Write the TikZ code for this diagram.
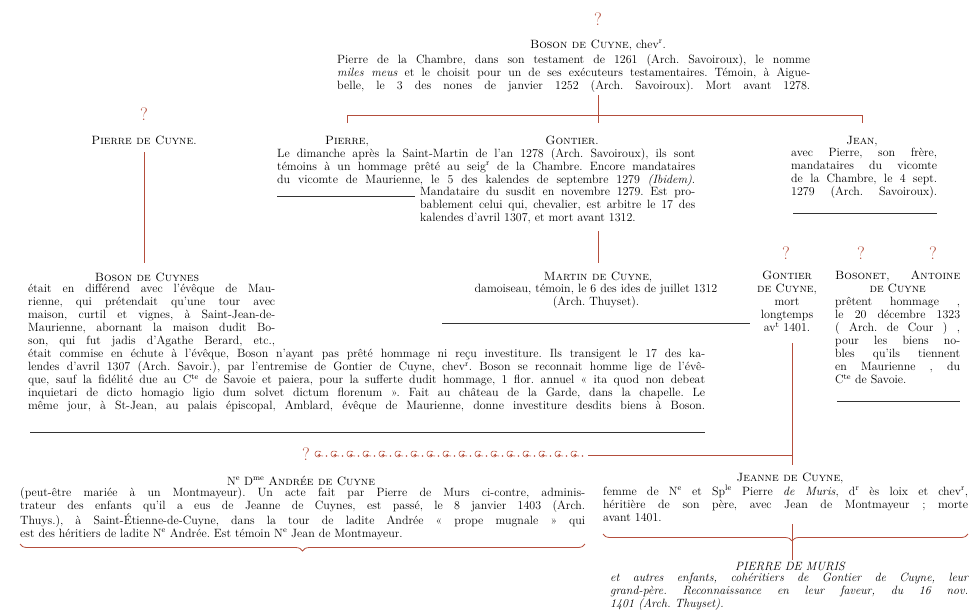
\documentclass[tikz,border=0pt]{standalone}
\usepackage{fontspec}
\usetikzlibrary{decorations.pathreplacing}
\definecolor{rouge}{RGB}{180,78,60}
\newcommand{\up}[1]{\textsuperscript{#1}}
\tikzset{
  qmark/.style={text=rouge, font=\fontsize{18}{18}\selectfont, inner sep=0pt},
  title/.style={anchor=base, inner sep=0pt},
  body/.style={anchor=north west, inner sep=0pt, align=justify},
  link/.style={draw=rouge, line width=0.9pt},
  rule/.style={draw=black!80, line width=0.7pt},
  brace/.style={draw=rouge, line width=0.8pt, decorate, decoration={brace, mirror, amplitude=7pt}}
}
\begin{document}
\begin{tikzpicture}[x=1pt, y=-1pt, font=\fontsize{12}{13}\selectfont]
\useasboundingbox (0,0) rectangle (978,611);
\hyphenpenalty=10000 \tolerance=10000 \frenchspacing
\spaceskip=0.333em plus 0.6em minus 0.15em

% --- Boson de Cuyne, head of the line
\node[qmark] (q0) at (598,19) {?};
\node[title] (boson) at (598,48) {\textsc{Boson de Cuyne}, chev\up{r}.};
\node[body, text width=473pt] (bosontxt) at (337,54) {\parfillskip=0pt Pierre de la Chambre, dans son testament de 1261 (Arch. Savoiroux), le nomme\linebreak
\textit{miles meus} et le choisit pour un de ses exécuteurs testamentaires. Témoin, à Aigue-\linebreak
belle, le 3 des nones de janvier 1252 (Arch. Savoiroux). Mort avant 1278.\par};

% --- his sons
\node[title] (pierre) at (347,144) {\textsc{Pierre},};
\node[title] (gontier) at (572,144) {\textsc{Gontier}.};
\node[title] (jean) at (862,144) {\textsc{Jean},};
\node[body, text width=418pt] (pgtxt) at (277,148) {\parfillskip=0pt
Le dimanche après la Saint-Martin de l'an 1278 (Arch. Savoiroux), ils sont\linebreak
témoins à un hommage prêté au seig\up{r} de la Chambre. Encore mandataires\linebreak
du vicomte de Maurienne, le 5 des kalendes de septembre 1279 \textit{(Ibidem)}.\par};
\node[body, text width=275pt] (gontiertxt) at (420,187) {Mandataire du susdit en novembre 1279. Est pro-\linebreak
bablement celui qui, chevalier, est arbitre le 17 des\linebreak
kalendes d'avril 1307, et mort avant 1312.\par};
\draw[rule] (277,196) -- (415,196);
\node[body, text width=146pt] (jeantxt) at (791,148) {\parfillskip=0pt avec Pierre, son frère,\linebreak
mandataires du vicomte\linebreak
de la Chambre, le 4 sept.\linebreak
1279 (Arch. Savoiroux).\par};
\draw[rule] (793,213) -- (937,213);

% --- Pierre de Cuyne and his son Boson
\node[qmark] (q1) at (144,114) {?};
\node[title] (pierrecuyne) at (144,144) {\textsc{Pierre de Cuyne}.};
\node[title] (bosons) at (147,281) {\textsc{Boson de Cuynes}};
\node[body, text width=247pt] (bosonstxt) at (28,284) {\parfillskip=0pt
était en différend avec l'évêque de Mau-\linebreak
rienne, qui prétendait qu'une tour avec\linebreak
maison, curtil et vignes, à Saint-Jean-de-\linebreak
Maurienne, abornant la maison dudit Bo-\linebreak
son, qui fut jadis d'Agathe Berard, etc.,\par};
\node[body, text width=677pt] (bosonstxt2) at (28,349) {\parfillskip=0pt
était commise en échute à l'évêque, Boson n'ayant pas prêté hommage ni reçu investiture. Ils transigent le 17 des ka-\linebreak
lendes d'avril 1307 (Arch. Savoir.), par l'entremise de Gontier de Cuyne, chev\up{r}. Boson se reconnait homme lige de l'évê-\linebreak
que, sauf la fidélité due au C\up{te} de Savoie et paiera, pour la sufferte dudit hommage, 1 flor. annuel « ita quod non debeat\linebreak
inquietari de dicto homagio ligio dum solvet dictum florenum ». Fait au château de la Garde, dans la chapelle. Le\linebreak
même jour, à St-Jean, au palais épiscopal, Amblard, évêque de Maurienne, donne investiture desdits biens à Boson.\par};
\draw[rule] (30,432) -- (705,432);

% --- Martin, son of Gontier
\node[title] (martin) at (598,280) {\textsc{Martin de Cuyne},};
\node[anchor=north, inner sep=0pt, text width=320pt, align=center] (martintxt) at (596,284) {damoiseau, témoin, le 6 des ides de juillet 1312\\(Arch. Thuyset).};
\draw[rule] (442,323) -- (750,323);

% --- Gontier, Bosonet and Antoine
\node[qmark] (q2) at (786,253) {?};
\node[qmark] (q3) at (861,253) {?};
\node[qmark] (q4) at (933,253) {?};
\node[anchor=north, inner sep=0pt, text width=80pt, align=center] (gontier2) at (787,271) {\textsc{Gontier}\\\textsc{de Cuyne},\\mort\\longtemps\\av\up{t} 1401.};
\node[anchor=north west, inner sep=0pt, text width=125pt, align=center] (bosonet) at (835,271) {\textsc{Bosonet},\hfill\textsc{Antoine}\\\textsc{de Cuyne}};
\node[body, text width=125pt] (bosonettxt) at (835,297) {prêtent hommage ,\linebreak
le 20 décembre 1323\linebreak
( Arch. de Cour ) ,\linebreak
pour les biens no-\linebreak
bles qu'ils tiennent\linebreak
en Maurienne , du\linebreak
C\up{te} de Savoie.\par};
\draw[rule] (837,401) -- (960,401);

% --- Andrée
\node[qmark] (q5) at (306,454) {?};
\node[title] (andree) at (301,485) {N\up{e} D\up{me} \textsc{Andrée de Cuyne}};
\node[body, text width=565pt] (andreetxt) at (20,487) {(peut-être mariée à un Montmayeur). Un acte fait par Pierre de Murs ci-contre, adminis-\linebreak
trateur des enfants qu'il a eus de Jeanne de Cuynes, est passé, le 8 janvier 1403 (Arch.\linebreak
Thuys.), à Saint-Étienne-de-Cuyne, dans la tour de ladite Andrée « prope mugnale » qui\linebreak
est des héritiers de ladite N\up{e} Andrée. Est témoin N\up{e} Jean de Montmayeur.\par};
\draw[brace] (20,544) -- (585,544);

% --- Jeanne
\node[title] (jeanne) at (790,481) {\textsc{Jeanne de Cuyne},};
\node[body, text width=365pt] (jeannetxt) at (603,485) {femme de N\up{e} et Sp\up{le} Pierre \textit{de Muris}, d\up{r} ès loix et chev\up{r},\linebreak
héritière de son père, avec Jean de Montmayeur ; morte\linebreak
avant 1401.\par};
\draw[brace, decoration={aspect=0.518}] (603,534) -- (968,534);

% --- Pierre de Muris
\node[title, font=\fontsize{12}{13}\itshape] (muris) at (790,570) {PIERRE DE MURIS};
\node[body, text width=358pt, font=\fontsize{12}{13}\itshape] (muristxt) at (610,573) {et autres enfants, cohéritiers de Gontier de Cuyne, leur\linebreak
grand-père. Reconnaissance en leur faveur, du 16 nov.\linebreak
1401 (Arch. Thuyset).\par};

% --- junctions of the tree
\coordinate (top) at (598,95);
\coordinate (bar) at (598,115);
\coordinate (barL) at (347,115);
\coordinate (barR) at (862,115);
\coordinate (gdown) at (598,231);
\coordinate (mtop) at (598,263);
\coordinate (pc1) at (144,152);
\coordinate (pc2) at (144,263);
\coordinate (g2a) at (792,343);
\coordinate (g2b) at (792,455);
\coordinate (g2c) at (792,465);
\coordinate (wavyend) at (588,455);
\coordinate (jn1) at (792,524);
\coordinate (jn2) at (792,560);

\draw[link] (top) -- (bar);
\draw[link] (barL) ++(0,8) -- (barL) -- (barR) -- ++(0,8);
\draw[link] (bar) -- ++(0,8);
\draw[link] (gdown) -- (mtop);
\draw[link] (pc1) -- (pc2);
\draw[link] (g2a) -- (g2c);
\draw[link] (wavyend) -- (g2b);
\draw[link] (jn1) -- (jn2);

% --- ornamental chain from Andrée's query mark
\foreach \i in {0,...,16} {
  \pgfmathsetmacro{\xx}{314+16*\i}
  \draw[rouge, line width=0.6pt] (\xx+7,452) .. controls (\xx+4,450) and (\xx+1,451) .. (\xx+1,454)
        .. controls (\xx+1,457) and (\xx+5,458) .. (\xx+6,456)
        .. controls (\xx+7,454) and (\xx+4,453) .. (\xx+4,455.5) -- (\xx+9,456);
  \fill[rouge] (\xx+12.5,456) circle (0.8pt);
}
\end{tikzpicture}
\end{document}
